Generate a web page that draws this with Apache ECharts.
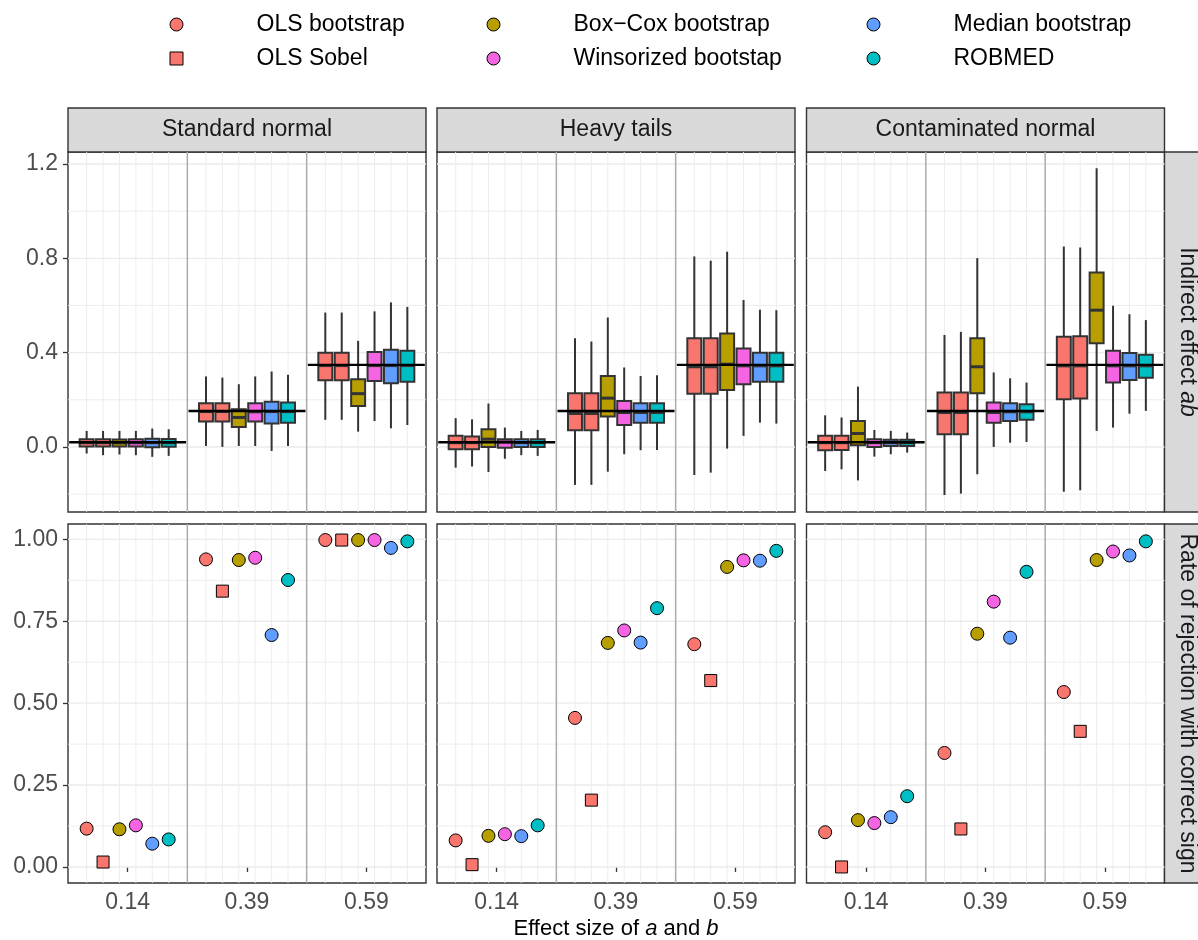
<!DOCTYPE html>
<html>
<head>
<meta charset="utf-8">
<script src="https://cdn.jsdelivr.net/npm/echarts@6/dist/echarts.min.js"></script>
<style>
  html, body { margin: 0; padding: 0; background: #ffffff; }
  #chart { width: 1198px; height: 940px; }
</style>
</head>
<body>
<div id="chart"></div>
<script>
// ---- data ----
const distributions = ['Standard normal', 'Heavy tails', 'Contaminated normal'];
const effectSizes = ['0.14', '0.39', '0.59'];
const trueIndirect = [0.0196, 0.1521, 0.3481];
const methods = ['OLS bootstrap', 'OLS Sobel', 'Box\u2212Cox bootstrap', 'Winsorized bootstap', 'Median bootstrap', 'ROBMED'];
const methodColors = ['#F8766D', '#F8766D', '#B79F00', '#F564E3', '#619CFF', '#00BFC4'];
const methodSymbols = ['circle', 'rect', 'circle', 'circle', 'circle', 'circle'];

// indirect effect estimates: [min, Q1, median, Q3, max] per effect size, per method
const boxStandardNormal = [
  [[-0.028, 0.002, 0.018, 0.033, 0.068], [-0.035, 0.002, 0.018, 0.033, 0.068], [-0.032, 0.002, 0.017, 0.032, 0.068],
   [-0.035, 0.002, 0.018, 0.033, 0.068], [-0.042, -0.001, 0.018, 0.035, 0.078], [-0.038, 0.001, 0.018, 0.034, 0.075]],
  [[0.004, 0.108, 0.150, 0.185, 0.299], [0.000, 0.108, 0.150, 0.185, 0.294], [0.004, 0.085, 0.125, 0.160, 0.266],
   [0.004, 0.108, 0.149, 0.185, 0.299], [-0.017, 0.099, 0.150, 0.192, 0.320], [0.004, 0.103, 0.150, 0.188, 0.306]],
  [[0.115, 0.283, 0.345, 0.400, 0.570], [0.115, 0.283, 0.345, 0.400, 0.570], [0.065, 0.174, 0.226, 0.287, 0.450],
   [0.110, 0.280, 0.345, 0.403, 0.575], [0.079, 0.270, 0.345, 0.412, 0.613], [0.093, 0.277, 0.345, 0.408, 0.594]]
];
const boxHeavyTails = [
  [[-0.088, -0.010, 0.018, 0.047, 0.122], [-0.083, -0.010, 0.018, 0.044, 0.117], [-0.106, 0.000, 0.033, 0.075, 0.184],
   [-0.050, -0.003, 0.021, 0.033, 0.082], [-0.035, 0.000, 0.018, 0.033, 0.068], [-0.038, 0.000, 0.018, 0.033, 0.072]],
  [[-0.161, 0.071, 0.142, 0.228, 0.461], [-0.161, 0.071, 0.142, 0.228, 0.447], [-0.105, 0.129, 0.207, 0.301, 0.549],
   [-0.031, 0.093, 0.146, 0.195, 0.337], [-0.014, 0.103, 0.146, 0.185, 0.301], [-0.013, 0.103, 0.146, 0.185, 0.304]],
  [[-0.119, 0.226, 0.340, 0.461, 0.808], [-0.109, 0.226, 0.340, 0.461, 0.790], [-0.007, 0.242, 0.351, 0.481, 0.828],
   [0.047, 0.266, 0.344, 0.417, 0.623], [0.103, 0.276, 0.344, 0.400, 0.582], [0.099, 0.276, 0.344, 0.400, 0.580]]
];
const boxContaminated = [
  [[-0.102, -0.014, 0.018, 0.047, 0.134], [-0.095, -0.013, 0.018, 0.047, 0.125], [-0.142, 0.007, 0.057, 0.110, 0.256],
   [-0.041, 0.000, 0.018, 0.033, 0.072], [-0.031, 0.004, 0.018, 0.030, 0.068], [-0.024, 0.004, 0.018, 0.030, 0.061]],
  [[-0.204, 0.054, 0.146, 0.231, 0.475], [-0.198, 0.054, 0.146, 0.231, 0.488], [-0.116, 0.228, 0.340, 0.461, 0.801],
   [0.000, 0.103, 0.146, 0.188, 0.316], [0.018, 0.110, 0.149, 0.185, 0.291], [0.021, 0.115, 0.149, 0.181, 0.273]],
  [[-0.190, 0.202, 0.344, 0.467, 0.850], [-0.184, 0.205, 0.344, 0.469, 0.846], [0.068, 0.440, 0.580, 0.740, 1.182],
   [0.082, 0.273, 0.344, 0.408, 0.599], [0.141, 0.284, 0.344, 0.398, 0.563], [0.153, 0.293, 0.344, 0.391, 0.538]]
];

// rate of rejection with correct sign, per effect size, per method
const rejStandardNormal = [
  [0.117, 0.015, 0.115, 0.127, 0.071, 0.084],
  [0.939, 0.842, 0.937, 0.944, 0.708, 0.876],
  [0.998, 0.998, 0.998, 0.998, 0.974, 0.994]
];
const rejHeavyTails = [
  [0.081, 0.007, 0.095, 0.100, 0.094, 0.127],
  [0.455, 0.204, 0.684, 0.722, 0.685, 0.790],
  [0.680, 0.569, 0.916, 0.936, 0.935, 0.965]
];
const rejContaminated = [
  [0.106, 0.000, 0.143, 0.134, 0.152, 0.216],
  [0.348, 0.116, 0.712, 0.810, 0.700, 0.901],
  [0.534, 0.414, 0.937, 0.963, 0.951, 0.994]
];

const topTicks = [0, 0.4, 0.8, 1.2];
const topTickLabels = ['0.0', '0.4', '0.8', '1.2'];
const bottomTicks = [0, 0.25, 0.5, 0.75, 1];
const bottomTickLabels = ['0.00', '0.25', '0.50', '0.75', '1.00'];

const boxData = [boxStandardNormal, boxHeavyTails, boxContaminated];
const rejData = [rejStandardNormal, rejHeavyTails, rejContaminated];

// ---- layout & style ----
const FONT = '"Liberation Sans", Arial, Helvetica, sans-serif';
const colLeft = [68, 437, 806.5];
const panelW = 358;
const rowTop = [152, 524];
const panelH = [360, 359];
const yRange = [[-0.276, 1.251], [-0.049, 1.047]];
const dodgeStep = 0.1375;
const boxWidth = 0.117;
const GRID_COLOR = '#EBEBEB';
const BORDER = '#333333';
// legend square keeps its aspect ratio when drawn as a path
const LEGEND_ICONS = { circle: 'circle', rect: 'path://M0,0L10,0L10,10L0,10Z' };

function dodge(k, m) { return k + 1 + (m - (methods.length - 1) / 2) * dodgeStep; }
function midpoints(arr) {
  const out = [];
  for (let i = 0; i < arr.length - 1; i++) out.push((arr[i] + arr[i + 1]) / 2);
  return out;
}

const grids = [], xAxes = [], yAxes = [], series = [];

for (let r = 0; r < 2; r++) {
  for (let c = 0; c < 3; c++) {
    const g = r * 3 + c;
    grids.push({
      left: colLeft[c], top: rowTop[r], width: panelW, height: panelH[r],
      show: true, borderColor: BORDER, borderWidth: 1.4, backgroundColor: '#ffffff',
      containLabel: false, outerBoundsMode: 'none'
    });
    const ticks = r === 0 ? topTicks : bottomTicks;
    const tickLabels = r === 0 ? topTickLabels : bottomTickLabels;
    xAxes.push({
      gridIndex: g, type: 'value', min: 0.5, max: 3.5,
      axisLine: { show: false }, splitLine: { show: false },
      axisTick: { show: r === 1, customValues: [1, 2, 3], length: 5, lineStyle: { color: BORDER, width: 1.3 } },
      axisLabel: {
        show: r === 1, customValues: [1, 2, 3], margin: 8,
        formatter: v => effectSizes[Math.round(v) - 1],
        color: '#4D4D4D', fontSize: 23, fontFamily: FONT
      }
    });
    yAxes.push({
      gridIndex: g, type: 'value', min: yRange[r][0], max: yRange[r][1],
      axisLine: { show: false }, splitLine: { show: false },
      axisTick: { show: c === 0, customValues: ticks, length: 5, lineStyle: { color: BORDER, width: 1.3 } },
      axisLabel: {
        show: c === 0, customValues: ticks, margin: 10,
        formatter: v => tickLabels[ticks.findIndex(t => Math.abs(t - v) < 1e-9)],
        color: '#4D4D4D', fontSize: 23, fontFamily: FONT
      }
    });

    // background grid lines: [orientation (0 = horizontal, 1 = vertical), value, weight (0 major, 1 minor)]
    const lines = [];
    ticks.forEach(t => lines.push([0, t, 0]));
    const minor = midpoints(ticks);
    if (r === 0) minor.unshift(-0.2);
    minor.forEach(t => lines.push([0, t, 1]));
    effectSizes.forEach((_, k) => methods.forEach((_, m) => lines.push([1, dodge(k, m), 1])));
    series.push({
      type: 'custom', xAxisIndex: g, yAxisIndex: g, silent: true, z: 1,
      data: lines,
      renderItem: (params, api) => {
        const cs = params.coordSys;
        const o = api.value(0), v = api.value(1), w = api.value(2);
        const style = { stroke: GRID_COLOR, lineWidth: w === 0 ? 1.4 : 0.9 };
        if (o === 0) {
          const y = api.coord([1, v])[1];
          return { type: 'line', shape: { x1: cs.x, y1: y, x2: cs.x + cs.width, y2: y }, style };
        }
        const x = api.coord([v, 0])[0];
        return { type: 'line', shape: { x1: x, y1: cs.y, x2: x, y2: cs.y + cs.height }, style };
      }
    });
    // separators between effect sizes
    series.push({
      type: 'custom', xAxisIndex: g, yAxisIndex: g, silent: true, z: 1,
      data: [1.5, 2.5].map(v => [v, 0]),
      renderItem: (params, api) => {
        const cs = params.coordSys;
        const x = api.coord([api.value(0), 0])[0];
        return { type: 'line', shape: { x1: x, y1: cs.y, x2: x, y2: cs.y + cs.height },
                 style: { stroke: '#ABABAB', lineWidth: 1.5 } };
      }
    });
  }
}

// rejection rates (scatter) first so the legend takes its style from them
for (let c = 0; c < 3; c++) {
  const g = 3 + c;
  methods.forEach((name, m) => {
    series.push({
      type: 'scatter', name, xAxisIndex: g, yAxisIndex: g, z: 4,
      symbol: methodSymbols[m], symbolSize: methodSymbols[m] === 'rect' ? 12 : 13,
      itemStyle: { color: methodColors[m], borderColor: '#000000', borderWidth: 1, opacity: 1 },
      emphasis: { disabled: true },
      data: effectSizes.map((_, k) => [dodge(k, m), rejData[c][k][m]])
    });
  });
}

// indirect effect boxplots
for (let c = 0; c < 3; c++) {
  const g = c;
  methods.forEach((name, m) => {
    series.push({
      type: 'custom', name, xAxisIndex: g, yAxisIndex: g, z: 2,
      itemStyle: { color: methodColors[m] },
      data: effectSizes.map((_, k) => [dodge(k, m)].concat(boxData[c][k][m])),
      renderItem: (params, api) => {
        const x = api.value(0);
        const pMin = api.coord([x, api.value(1)]);
        const pQ1 = api.coord([x, api.value(2)]);
        const pMed = api.coord([x, api.value(3)]);
        const pQ3 = api.coord([x, api.value(4)]);
        const pMax = api.coord([x, api.value(5)]);
        const w = api.size([boxWidth, 0])[0];
        const line = { stroke: BORDER, lineWidth: 2 };
        return {
          type: 'group',
          children: [
            { type: 'line', shape: { x1: pMin[0], y1: pMin[1], x2: pQ1[0], y2: pQ1[1] }, style: line },
            { type: 'line', shape: { x1: pQ3[0], y1: pQ3[1], x2: pMax[0], y2: pMax[1] }, style: line },
            { type: 'rect', shape: { x: pQ1[0] - w / 2, y: pQ3[1], width: w, height: pQ1[1] - pQ3[1] },
              style: { fill: api.visual('color'), stroke: BORDER, lineWidth: 2 } },
            { type: 'line', shape: { x1: pMed[0] - w / 2, y1: pMed[1], x2: pMed[0] + w / 2, y2: pMed[1] },
              style: { stroke: BORDER, lineWidth: 3 } }
          ]
        };
      }
    });
  });
  // true indirect effect a*b per effect size
  series.push({
    type: 'custom', xAxisIndex: g, yAxisIndex: g, silent: true, z: 3,
    data: trueIndirect.map((v, k) => [k + 1, v]),
    renderItem: (params, api) => {
      const a = api.coord([api.value(0) - 0.49, api.value(1)]);
      const b = api.coord([api.value(0) + 0.49, api.value(1)]);
      return { type: 'line', shape: { x1: a[0], y1: a[1], x2: b[0], y2: b[1] },
               style: { stroke: '#000000', lineWidth: 2.4 } };
    }
  });
}

// legends: three columns of two entries (left edge = left edge of the symbol)
const legendCols = [[0, 1], [2, 3], [4, 5]];
const legendLeft = [169.5, 486.5, 866.5];
const legends = legendCols.map((idx, i) => ({
  orient: 'vertical', left: legendLeft[i], top: 13, padding: 0,
  itemWidth: 150, itemHeight: 13, itemGap: 11, selectedMode: false,
  symbolKeepAspect: true,
  itemStyle: { borderColor: '#000000', borderWidth: 1 },
  textStyle: { fontSize: 23, color: '#000000', fontFamily: FONT },
  data: idx.map(m => ({ name: methods[m], icon: LEGEND_ICONS[methodSymbols[m]] }))
}));

// facet strips and axis title
const graphics = [];
distributions.forEach((d, c) => {
  graphics.push({
    type: 'rect', shape: { x: colLeft[c], y: 108, width: panelW, height: 44 },
    style: { fill: '#D9D9D9', stroke: BORDER, lineWidth: 1.4 }, silent: true
  });
  graphics.push({
    type: 'text', x: colLeft[c] + panelW / 2, y: 130,
    style: { text: d, fill: '#1A1A1A', font: '23px ' + FONT, align: 'center', verticalAlign: 'middle' }, silent: true
  });
});
const rowStrips = [
  { text: '{n|Indirect effect }{i|ab}' },
  { text: '{n|Rate of rejection with correct sign}' }
];
rowStrips.forEach((s, r) => {
  graphics.push({
    type: 'rect', shape: { x: 1164.5, y: rowTop[r], width: 50, height: panelH[r] },
    style: { fill: '#D9D9D9', stroke: BORDER, lineWidth: 1.4 }, silent: true
  });
  graphics.push({
    type: 'text', x: 1187, y: rowTop[r] + panelH[r] / 2, rotation: -Math.PI / 2,
    style: {
      text: s.text, align: 'center', verticalAlign: 'middle',
      rich: {
        n: { fontSize: 23, fontFamily: FONT, fill: '#1A1A1A' },
        i: { fontSize: 23, fontFamily: FONT, fill: '#1A1A1A', fontStyle: 'italic' }
      }
    }, silent: true
  });
});
graphics.push({
  type: 'text', x: 616, y: 929,
  style: {
    text: '{n|Effect size of }{i|a}{n| and }{i|b}', align: 'center', verticalAlign: 'middle',
    rich: {
      n: { fontSize: 22, fontFamily: FONT, fill: '#000000' },
      i: { fontSize: 22, fontFamily: FONT, fill: '#000000', fontStyle: 'italic' }
    }
  }, silent: true
});

const chart = echarts.init(document.getElementById('chart'), null, { renderer: 'canvas' });
chart.setOption({
  animation: false,
  backgroundColor: '#ffffff',
  grid: grids,
  xAxis: xAxes,
  yAxis: yAxes,
  legend: legends,
  graphic: { elements: graphics },
  series
});
</script>
</body>
</html>
